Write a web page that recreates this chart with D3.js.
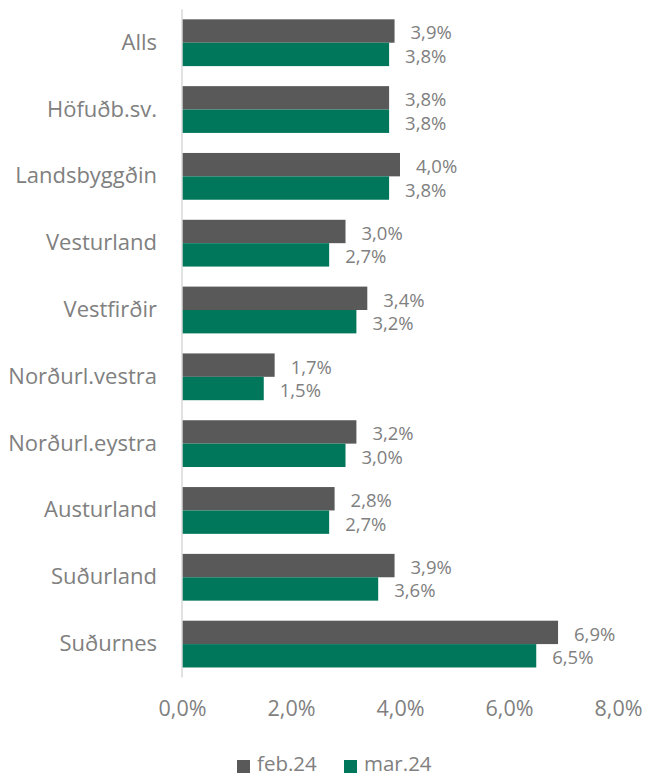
<!DOCTYPE html>
<html><head><meta charset="utf-8">
<script src="https://cdn.jsdelivr.net/npm/d3@7"></script>
<style>body{margin:0;background:#fff}svg{display:block}</style>
</head><body>
<script>
const categories = ["Alls","Höfuðb.sv.","Landsbyggðin","Vesturland","Vestfirðir","Norðurl.vestra","Norðurl.eystra","Austurland","Suðurland","Suðurnes"];
const seriesNames = ["feb.24","mar.24"];
const feb24 = [3.9,3.8,4.0,3.0,3.4,1.7,3.2,2.8,3.9,6.9];
const mar24 = [3.8,3.8,3.8,2.7,3.2,1.5,3.0,2.7,3.6,6.5];
const tickValues = [0,2,4,6,8];
const colors = ["#595959","#00765a"];

const W=645,H=778;
const font="'Open Sans', sans-serif";
const textColor="#808080";
const svg=d3.select("body").append("svg").attr("width",W).attr("height",H);
const x=d3.scaleLinear().domain([0,8]).range([182,618]);
const y=d3.scaleBand().domain(categories).range([9.3,677.5]).paddingInner(0.3).paddingOuter(0.15);
const sub=d3.scaleBand().domain(seriesNames).range([0,y.bandwidth()]);
const fmt=v=>d3.format(".1f")(v).replace(".",",")+"%";

const series=[feb24,mar24];
series.forEach((vals,si)=>{
  const g=svg.append("g");
  g.selectAll("rect").data(categories).join("rect")
    .attr("x",x(0)).attr("y",d=>y(d)+sub(seriesNames[si]))
    .attr("width",(d,i)=>x(vals[i])-x(0)).attr("height",sub.bandwidth())
    .attr("fill",colors[si]);
  g.selectAll("text").data(categories).join("text")
    .attr("x",(d,i)=>x(vals[i])+16)
    .attr("y",d=>y(d)+sub(seriesNames[si])+sub.bandwidth()/2+2)
    .attr("dy","0.35em")
    .attr("font-family",font).attr("font-size",18.5).attr("fill",textColor)
    .text((d,i)=>fmt(vals[i]));
});

// axis line
svg.append("line").attr("x1",x(0)).attr("x2",x(0)).attr("y1",9.3).attr("y2",677.5)
  .attr("stroke","#d9d9d9").attr("stroke-width",1.5);

// category labels
const ya=svg.append("g").attr("transform",`translate(${x(0)-25},0)`)
  .call(d3.axisLeft(y).tickSize(0).tickPadding(0));
ya.select(".domain").remove();
ya.selectAll("text").attr("font-family",font).attr("font-size",22).attr("fill",textColor);

// x tick labels
const xa=svg.append("g").attr("transform","translate(0,699)")
  .call(d3.axisBottom(x).tickValues(tickValues).tickSize(0).tickPadding(0).tickFormat(fmt));
xa.select(".domain").remove();
xa.selectAll("text").attr("font-family",font).attr("font-size",21.5).attr("fill",textColor).attr("dy","0.8em");

// legend
const lg=svg.append("g");
const lx=[237,344];
seriesNames.forEach((n,i)=>{
  lg.append("rect").attr("x",lx[i]).attr("y",760).attr("width",13).attr("height",13).attr("fill",colors[i]);
  lg.append("text").attr("x",lx[i]+20).attr("y",764).attr("dy","0.35em")
    .attr("font-family",font).attr("font-size",20.5).attr("fill",textColor).text(n);
});
</script>
</body></html>
